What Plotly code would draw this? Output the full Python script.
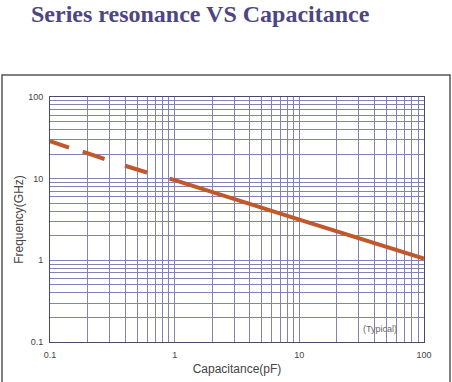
import plotly.graph_objects as go

# Data
cap_solid = [0.91, 1, 10, 100]
freq_solid = [10.0, 9.6, 3.15, 1.05]
# dashed (extrapolated) region, segments separated by None
cap_dashed = [0.1, 0.142, None, 0.183, 0.274, None, 0.40, 0.60]
freq_dashed = [28.8, 24.0, None, 21.4, 17.4, None, 14.4, 11.9]

x_tick_vals = [0.1, 1, 10, 100]
x_tick_text = ["0.1", "1", "10", "100"]
y_tick_vals = [0.1, 1, 10, 100]
y_tick_text = ["0.1", "1", "10", "100"]

line_color = "#c1582b"
grid_color = "#8383b3"

fig = go.Figure()
fig.add_trace(go.Scatter(x=cap_dashed, y=freq_dashed, mode="lines",
                         line=dict(color=line_color, width=4), connectgaps=False,
                         hoverinfo="skip", showlegend=False))
fig.add_trace(go.Scatter(x=cap_solid, y=freq_solid, mode="lines",
                         line=dict(color=line_color, width=4),
                         showlegend=False))

axis_common = dict(
    type="log", showgrid=True, gridcolor=grid_color, gridwidth=1,
    showline=True, linecolor="#4a4a6a", linewidth=1, mirror=True,
    ticks="", zeroline=False, automargin=False,
    tickfont=dict(family="Liberation Sans, Arial", size=9, color="#444444"),
    minor=dict(dtick="D1", showgrid=True, gridcolor=grid_color, gridwidth=1),
)

fig.update_xaxes(**axis_common, range=[-1, 2], tickvals=x_tick_vals, ticktext=x_tick_text,
                 ticklabelstandoff=4,
                 title=dict(text="Capacitance(pF)", standoff=5,
                            font=dict(family="Liberation Sans, Arial", size=12, color="#444444")))
fig.update_yaxes(**axis_common, range=[-1, 2], tickvals=y_tick_vals, ticktext=y_tick_text,
                 ticklabelstandoff=4,
                 title=dict(text="Frequency(GHz)", standoff=1,
                            font=dict(family="Liberation Sans, Arial", size=12, color="#444444")))

fig.add_annotation(text="(Typical)", x=1.645, y=-0.84, xref="x", yref="y",
                   showarrow=False,
                   font=dict(family="Liberation Sans, Arial", size=9, color="#666666"))

# outer frame box
fig.add_shape(type="rect", xref="paper", yref="paper",
              x0=(2 - 50) / 374, x1=(450 - 50) / 374,
              y0=-0.3, y1=1 + (97 - 75) / 245,
              line=dict(color="#555555", width=1.5), fillcolor="rgba(0,0,0,0)", layer="below")

fig.update_layout(
    width=452, height=382,
    margin=dict(l=50, r=28, t=97, b=40, autoexpand=False),
    paper_bgcolor="white", plot_bgcolor="white",
    title=dict(text="<b>Series resonance VS Capacitance</b>", x=31 / 452, xanchor="left",
               y=1 - 14 / 382, yanchor="middle",
               font=dict(family="Liberation Serif, Times New Roman", size=24, color="#4e4682")),
)

fig.write_html("out.html", config={"displayModeBar": False},
               post_script="document.body.style.margin='0';document.body.style.padding='0';")
